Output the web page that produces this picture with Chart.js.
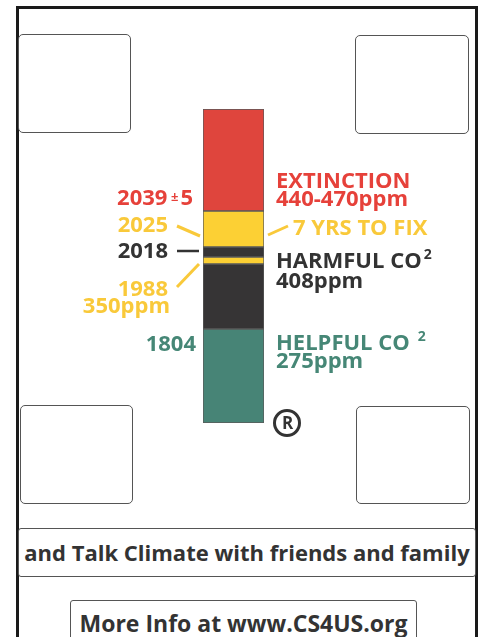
<!DOCTYPE html>
<html>
<head>
<meta charset="utf-8">
<script src="https://cdn.jsdelivr.net/npm/chart.js@4"></script>
<style>
  body { margin: 0; background: #fff; font-family: 'Open Sans', sans-serif; }
  .page { position: relative; width: 479px; height: 637px; overflow: hidden; }
  .frame { position: absolute; left: 16px; top: 6px; width: 456px; height: 700px; border: 3px solid #1a1a1a; }
  .box { position: absolute; border: 1.5px solid #555; border-radius: 5px; }
  .txt { position: absolute; border: 1.2px solid #555; border-radius: 3px; text-align: center; font-weight: 700; color: #333; white-space: nowrap; }
  canvas { position: absolute; left: 0; top: 0; }
</style>
</head>
<body>
<div class="page">
  <div class="frame"></div>
  <div class="box" style="left:18px;top:34px;width:111px;height:97px"></div>
  <div class="box" style="left:355px;top:35px;width:112px;height:97px"></div>
  <div class="box" style="left:20px;top:405px;width:111px;height:97px"></div>
  <div class="box" style="left:356px;top:406px;width:112px;height:96px"></div>
  <div class="txt" style="left:18px;top:528px;width:456px;height:47px;line-height:47px;font-size:22px">and Talk Climate with friends and family</div>
  <div class="txt" style="left:70px;top:600px;width:345px;height:60px;line-height:44px;font-size:23px">More Info at www.CS4US.org</div>
  <canvas id="bar" width="479" height="637"></canvas>
</div>
<script>
// segments of the thermometer bar, bottom to top
const segments = ['Helpful', 'Harmful', '1988', '2018', '7 yrs', 'Extinction'];
const heights = [94, 65, 7, 10, 36, 102];
const colors = ['#478476', '#363435', '#fcd034', '#363435', '#fcd034', '#df453d'];

const red = '#e6413a', yellow = '#f9c93a', dark = '#333', green = '#468776';
const FONT = "700 22px 'Open Sans'";

// label text drawn next to the bar (y in bar units, from bottom)
const labelsPlugin = {
  id: 'labels',
  afterDatasetsDraw(chart) {
    const c = chart.ctx, a = chart.chartArea, y = chart.scales.y;
    const L = a.left, R = a.right;
    c.save();
    c.textBaseline = 'alphabetic';
    function txt(s, x, v, col, align, font) {
      c.font = font || FONT;
      c.fillStyle = col;
      c.textAlign = align;
      c.fillText(s, x, y.getPixelForValue(v));
      return c.measureText(s).width;
    }
    function line(x1, v1, x2, v2, col, w) {
      c.strokeStyle = col; c.lineWidth = w || 3;
      c.beginPath();
      c.moveTo(x1, y.getPixelForValue(v1));
      c.lineTo(x2, y.getPixelForValue(v2));
      c.stroke();
    }
    // right side
    txt('EXTINCTION', R + 12, 235, red, 'left');
    txt('440-470ppm', R + 12, 217, red, 'left');
    txt('7 YRS TO FIX', R + 29, 188, yellow, 'left');
    let w = txt('HARMFUL CO', R + 12, 155, dark, 'left');
    txt('2', R + 14 + w, 164, dark, 'left', "700 14px 'Open Sans'");
    txt('408ppm', R + 12, 135, dark, 'left');
    w = txt('HELPFUL CO', R + 12, 73, green, 'left');
    txt('2', R + 20 + w, 82, green, 'left', "700 14px 'Open Sans'");
    txt('275ppm', R + 12, 55, green, 'left');
    // left side
    c.font = FONT;
    const w5 = c.measureText('5').width;
    txt('5', L - 10, 218, red, 'right');
    txt('±', L - 12 - w5, 222, red, 'right', "700 13px 'Open Sans'");
    txt('2039', L - 23 - w5, 218, red, 'right');
    txt('2025', L - 35, 191, yellow, 'right');
    txt('2018', L - 35, 165, dark, 'right');
    txt('1988', L - 35, 127, yellow, 'right');
    txt('350ppm', L - 33, 110, yellow, 'right');
    txt('1804', L - 7, 72, green, 'right');
    // connectors
    line(L - 26, 197, L - 3, 187, yellow);
    line(R + 4, 188, R + 24, 197, yellow);
    line(L - 26, 172, L - 4, 172, dark, 2.5);
    line(L - 26, 136, L - 4, 159, yellow);
    // registered mark
    const cx = R + 23, cy = y.getPixelForValue(0);
    c.strokeStyle = dark; c.lineWidth = 3;
    c.beginPath(); c.arc(cx, cy, 12.5, 0, Math.PI * 2); c.stroke();
    c.font = "700 17px 'Open Sans'"; c.fillStyle = dark;
    c.textAlign = 'center'; c.textBaseline = 'middle';
    c.fillText('R', cx + 0.5, cy + 1);
    c.restore();
  }
};

new Chart(document.getElementById('bar'), {
  type: 'bar',
  data: {
    labels: ['CO2'],
    datasets: segments.map((s, i) => ({
      label: s,
      data: [heights[i]],
      backgroundColor: colors[i],
      borderColor: '#5a5a5a',
      borderWidth: 1,
      borderSkipped: false
    }))
  },
  options: {
    responsive: false,
    animation: false,
    layout: { padding: { top: 109, bottom: 214, left: 203, right: 215 } },
    datasets: { bar: { barPercentage: 1, categoryPercentage: 1 } },
    scales: {
      x: { stacked: true, display: false },
      y: { stacked: true, display: false, min: 0, max: 314 }
    },
    plugins: { legend: { display: false }, tooltip: { enabled: false } }
  },
  plugins: [labelsPlugin]
});
</script>
</body>
</html>
